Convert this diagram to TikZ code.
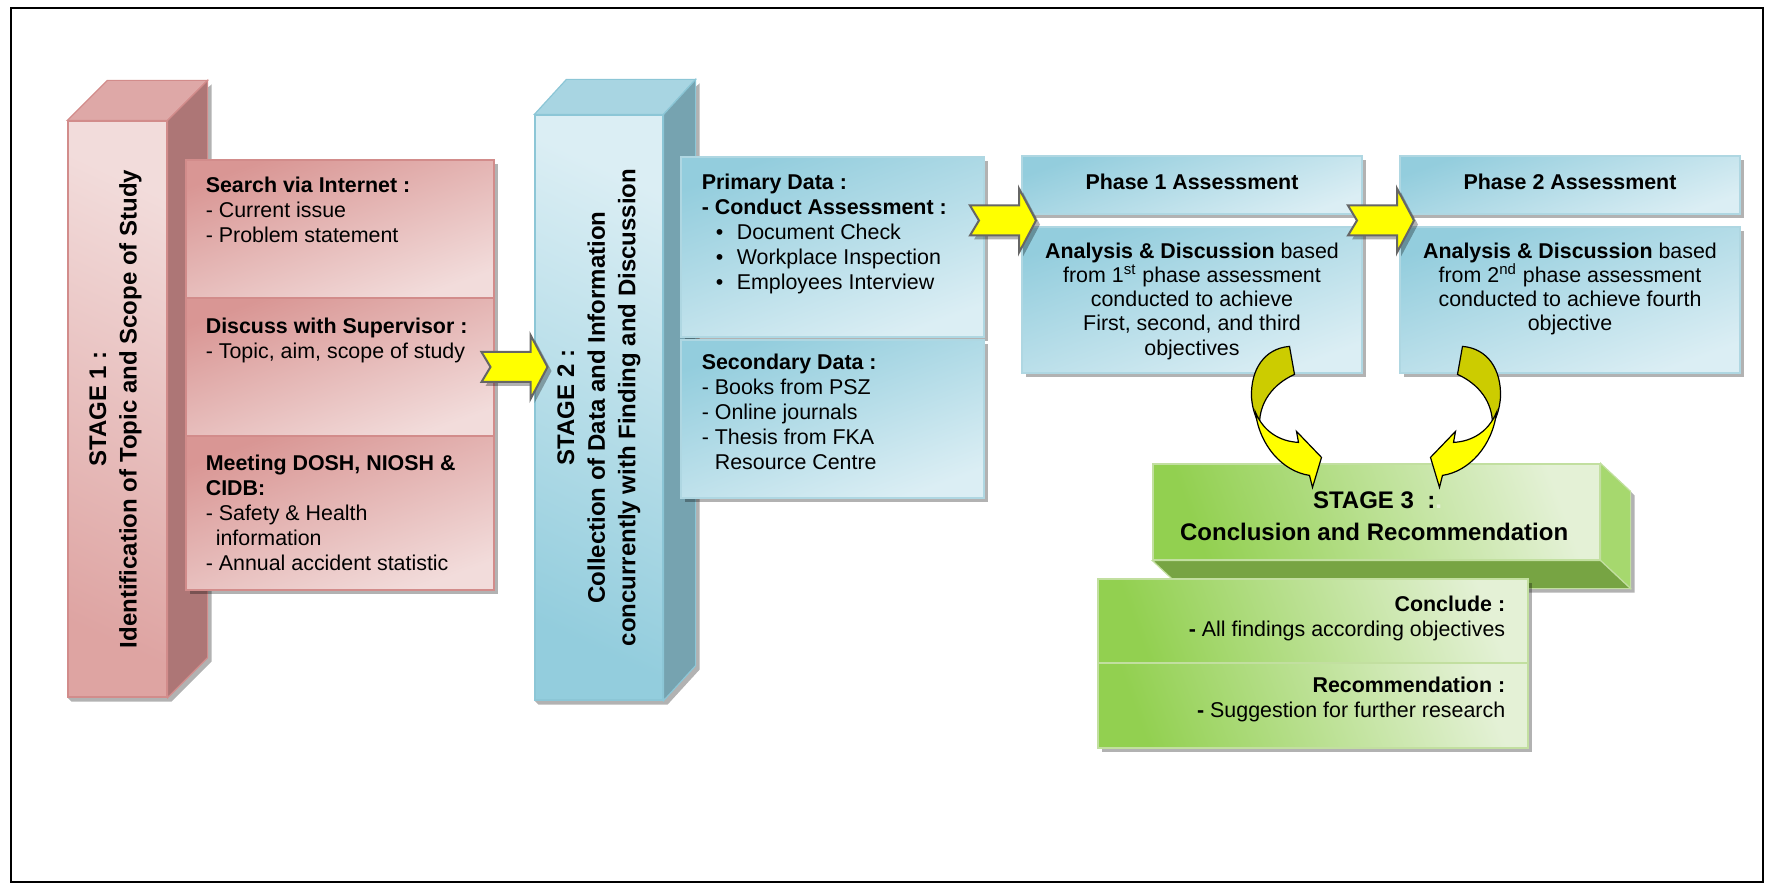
\documentclass[tikz,border=0pt]{standalone}
\usepackage{fontspec}
\setmainfont{Liberation Sans}
\usetikzlibrary{calc,shadows,backgrounds}

\definecolor{pinkD}{HTML}{D99694}
\definecolor{pinkL}{HTML}{F2DCDB}
\definecolor{pinkTop}{HTML}{DEA8A7}
\definecolor{pinkSide}{HTML}{AD7676}
\definecolor{pinkLine}{HTML}{D28C8B}
\definecolor{blueD}{HTML}{93CDDD}
\definecolor{blueL}{HTML}{DBEEF4}
\definecolor{blueTop}{HTML}{A8D5E2}
\definecolor{blueSide}{HTML}{76A3B0}
\definecolor{blueLine}{HTML}{8CC6D6}
\definecolor{greenD}{HTML}{92D050}
\definecolor{greenL}{HTML}{E4F1D6}
\definecolor{greenSide}{HTML}{A6D86E}
\definecolor{greenBot}{HTML}{77A443}
\definecolor{greenLine}{HTML}{C2DFA0}
\definecolor{arrowFront}{HTML}{FFFF00}
\definecolor{arrowBack}{HTML}{CCCC00}
\definecolor{arrowLine}{HTML}{666666}

\tikzset{
  every node/.style={inner sep=0pt},
  txt/.style={align=left, font=\fontsize{10.7}{12.5}\selectfont},
  ctxt/.style={align=center, font=\fontsize{10.7}{12.1}\selectfont},
  rtxt/.style={align=right, font=\fontsize{10.7}{12.6}\selectfont},
  stagetxt/.style={align=center, rotate=90, font=\fontsize{12}{15.3}\selectfont\bfseries},
  boxshadow/.style={drop shadow={shadow xshift=2pt, shadow yshift=-2pt, fill=black, opacity=0.3}},
  pinkfront/.style={rectangle, draw=pinkLine, line width=0.6pt, top color=pinkL, bottom color=pinkD!80!pinkL, shading angle=-25},
  pinkbox/.style={rectangle, draw=pinkLine, line width=0.6pt, top color=pinkD, bottom color=pinkL, shading angle=20, boxshadow},
  bluefront/.style={rectangle, draw=blueLine, line width=0.6pt, top color=blueL, bottom color=blueD, shading angle=-25},
  bluebox/.style={rectangle, draw=blueLine!70, line width=0.6pt, top color=blueD, bottom color=blueL, shading angle=20, boxshadow},
  greenfront/.style={rectangle, draw=greenLine, line width=0.6pt, left color=greenD, right color=greenL, shading angle=110},
  greenbox/.style={rectangle, draw=greenLine, line width=0.6pt, left color=greenD, right color=greenL, shading angle=110, boxshadow},
  yarrow/.pic={
    \filldraw[fill=arrowFront, draw=arrowLine, line width=1pt, boxshadow]
      (-33,-15) -- (16,-15) -- (16,-32) -- (33,0) -- (16,32) -- (16,15)
      -- (-33,15) -- (-24,0) -- cycle;
  },
  bendarrow/.pic={
    \filldraw[fill=arrowBack, draw=black, line width=0.6pt]
      (-23,-141) .. controls (-48,-139) and (-62,-118) .. (-61,-90)
      .. controls (-60,-78) and (-57,-70) .. (-53,-63)
      .. controls (-53,-85) and (-40,-103) .. (-18,-113) -- cycle;
    \filldraw[fill=arrowFront, draw=black, line width=0.6pt]
      (-57,-75) .. controls (-53,-42) and (-30,-16) .. (-3,-12)
      -- (0,0) -- (9,-30) -- (-16,-56) -- (-14,-45)
      .. controls (-33,-46) and (-49,-56) .. (-57,-75) -- cycle;
  }
}

\begin{document}
\begin{tikzpicture}[x=0.5pt, y=-0.5pt]
  \useasboundingbox (0,0) rectangle (1774,893);
  \draw[line width=1pt] (11,8) rectangle (1763,882);

  % Stage 1 column
  \node[pinkfront, minimum width=49.5pt, minimum height=288pt] (s1) at (117.5,409) {};
  \filldraw[fill=pinkTop, draw=pinkLine, line width=0.6pt]
    (s1.north west) -- ++(40,-40) -- ($(s1.north east)+(40,-40)$) -- (s1.north east) -- cycle;
  \filldraw[fill=pinkSide, draw=pinkLine, line width=0.6pt]
    (s1.north east) -- ++(40,-40) -- ($(s1.south east)+(40,-40)$) -- (s1.south east) -- cycle;
  \begin{scope}[on background layer]
    \fill[black!30] ($(s1.south west)+(4,4)$) -- ($(s1.south east)+(4,4)$) -- ($(s1.south east)+(44,-36)$)
      -- ($(s1.north east)+(44,-36)$) -- (s1.north east) -- (s1.south west) -- cycle;
  \end{scope}
  \node[stagetxt] (s1t) at ($(s1.center)+(-2,0)$) {STAGE 1 :\\Identification of Topic and Scope of Study};

  \node[pinkbox, minimum width=154pt, minimum height=69pt] (b11) at (340,229) {};
  \node[pinkbox, minimum width=154pt, minimum height=69pt] (b12) at (340,367) {};
  \node[pinkbox, minimum width=154pt, minimum height=77pt] (b13) at (340,513) {};
  \node[txt, anchor=north west] (t11) at ($(b11.north west)+(20,17)$)
    {\textbf{Search via Internet :}\\- Current issue\\- Problem statement};
  \node[txt, anchor=north west] (t12) at ($(b12.north west)+(20,20)$)
    {\textbf{Discuss with Supervisor :}\\- Topic, aim, scope of study};
  \node[txt, anchor=north west] (t13) at ($(b13.north west)+(20,19)$)
    {\textbf{Meeting DOSH, NIOSH \&}\\\textbf{CIDB:}\\- Safety \& Health\\\hspace*{5pt}information\\- Annual accident statistic};

  % Stage 2 column
  \node[bluefront, minimum width=64pt, minimum height=292.5pt] (s2) at (599,407.5) {};
  \filldraw[fill=blueTop, draw=blueLine, line width=0.6pt]
    (s2.north west) -- ++(32,-35) -- ($(s2.north east)+(32,-35)$) -- (s2.north east) -- cycle;
  \filldraw[fill=blueSide, draw=blueLine, line width=0.6pt]
    (s2.north east) -- ++(32,-35) -- ($(s2.south east)+(32,-35)$) -- (s2.south east) -- cycle;
  \begin{scope}[on background layer]
    \fill[black!30] ($(s2.south west)+(4,4)$) -- ($(s2.south east)+(4,4)$) -- ($(s2.south east)+(36,-31)$)
      -- ($(s2.north east)+(36,-31)$) -- (s2.north east) -- (s2.south west) -- cycle;
  \end{scope}
  \node[stagetxt] (s2t) at (s2.center)
    {STAGE 2 :\\Collection of Data and Information\\concurrently with Finding and Discussion};

  \node[bluebox, minimum width=151.5pt, minimum height=90pt] (b21) at (832.5,247) {};
  \node[bluebox, minimum width=151.5pt, minimum height=79pt] (b22) at (832.5,419) {};
  \node[txt, anchor=north west] (t21) at ($(b21.north west)+(21,17)$)
    {\textbf{Primary Data :}\\\textbf{- Conduct Assessment :}\\
     \hspace*{7pt}\makebox[10.5pt][l]{\textbullet}Document Check\\
     \hspace*{7pt}\makebox[10.5pt][l]{\textbullet}Workplace Inspection\\
     \hspace*{7pt}\makebox[10.5pt][l]{\textbullet}Employees Interview};
  \node[txt, anchor=north west] (t22) at ($(b22.north west)+(21,14)$)
    {\textbf{Secondary Data :}\\- Books from PSZ\\- Online journals\\- Thesis from FKA\\\phantom{- }Resource Centre};

  % Phase boxes
  \node[bluebox, minimum width=170pt, minimum height=29pt] (p1h) at (1192,185) {};
  \node[bluebox, minimum width=170pt, minimum height=73pt] (p1b) at (1192,300) {};
  \node[bluebox, minimum width=170pt, minimum height=29pt] (p2h) at (1570,185) {};
  \node[bluebox, minimum width=170pt, minimum height=73pt] (p2b) at (1570,300) {};
  \node[ctxt, font=\fontsize{10.7}{12}\selectfont\bfseries] (p1ht) at ($(p1h.center)+(0,-3)$) {Phase 1 Assessment};
  \node[ctxt, font=\fontsize{10.7}{12}\selectfont\bfseries] (p2ht) at ($(p2h.center)+(0,-3)$) {Phase 2 Assessment};
  \node[ctxt, anchor=north] (p1bt) at ($(p1b.north)+(0,16)$)
    {\textbf{Analysis \& Discussion} based\\from 1\textsuperscript{st} phase assessment\\conducted to achieve\\First, second, and third\\objectives};
  \node[ctxt, anchor=north] (p2bt) at ($(p2b.north)+(0,16)$)
    {\textbf{Analysis \& Discussion} based\\from 2\textsuperscript{nd} phase assessment\\conducted to achieve fourth\\objective};

  % Stage 3 block
  \node[greenfront, minimum width=223.5pt, minimum height=48pt] (s3) at (1376.5,512) {};
  \filldraw[fill=greenSide, draw=greenLine, line width=0.6pt]
    (s3.north east) -- ++(30,28) -- ($(s3.south east)+(30,28)$) -- (s3.south east) -- cycle;
  \filldraw[fill=greenBot, draw=greenLine, line width=0.6pt]
    (s3.south west) -- (s3.south east) -- ++(30,28) -- ($(s3.south west)+(30,28)$) -- cycle;
  \begin{scope}[on background layer]
    \fill[black!30] ($(s3.north east)+(34,32)$) -- ($(s3.south east)+(34,32)$) -- ($(s3.south west)+(34,32)$)
      -- (s3.south west) -- (s3.north east) -- cycle;
  \end{scope}
  \node[ctxt, font=\fontsize{12}{15.8}\selectfont\bfseries] (s3t) at ($(s3.center)+(1,4)$)
    {STAGE 3~~:{\color{greenL}.}\\Conclusion and Recommendation{\color{greenL}.}};

  \node[greenbox, minimum width=215pt, minimum height=42pt] (c1) at (1313,621) {};
  \node[greenbox, minimum width=215pt, minimum height=42.5pt] (c2) at (1313,705.5) {};
  \node[rtxt, anchor=north east] (c1t) at ($(c1.north east)+(-23,17)$)
    {\textbf{Conclude :}\\\textbf{-} All findings according objectives};
  \node[rtxt, anchor=north east] (c2t) at ($(c2.north east)+(-23,14)$)
    {\textbf{Recommendation :}\\\textbf{-} Suggestion for further research};

  % Block arrows
  \pic (a1) at ($(b12.east)!0.5!(s2.west |- b12.east)$) {yarrow};
  \pic (a2) at ($(b21.east |- p1h.south west)!0.5!(p1b.north west)$) {yarrow};
  \pic (a3) at ($(p1h.south east)!0.5!(p2b.north west)$) {yarrow};

  % Curved arrows into stage 3
  \pic (ca1) at ($(s3.north)+(-64,24)$) {bendarrow};
  \pic[xscale=-1] (ca2) at ($(s3.north)+(63,24)$) {bendarrow};
\end{tikzpicture}
\end{document}
